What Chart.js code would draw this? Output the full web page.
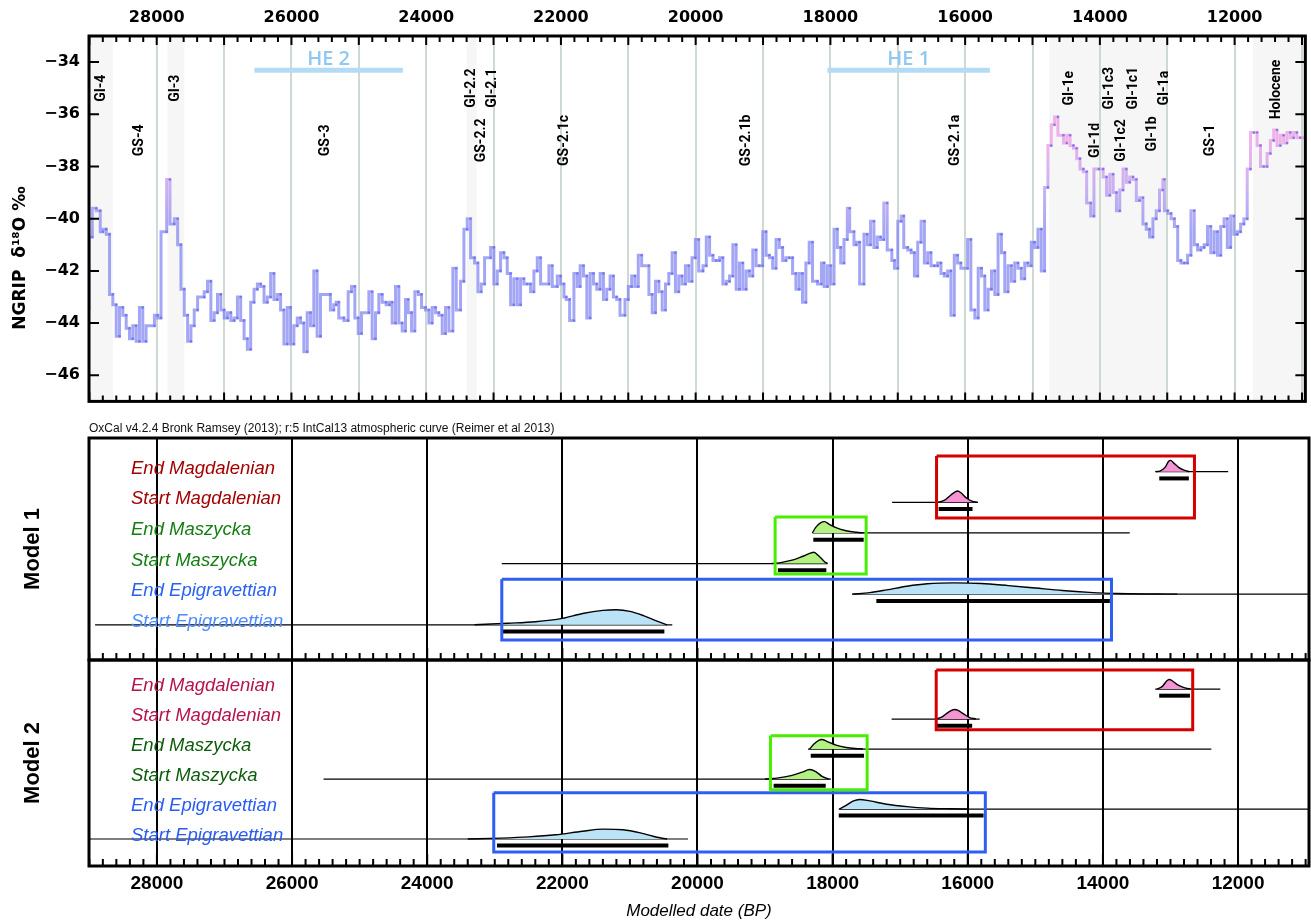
<!DOCTYPE html>
<html>
<head>
<meta charset="utf-8">
<script src="https://cdn.jsdelivr.net/npm/chart.js@4.4.1/dist/chart.umd.min.js"></script>
<style>
  html, body { margin: 0; padding: 0; background: #fff; }
  #wrap { position: relative; width: 1311px; height: 923px; overflow: hidden; }
  canvas { position: absolute; left: 0; }
  #c1 { top: 0; }
  #c2 { top: 420px; }
  #c3 { top: 657px; }
  #oxcal { position: absolute; left: 89px; top: 421px; font: 12px "Liberation Sans", Arial, sans-serif; color: #111; white-space: nowrap; }
</style>
</head>
<body>
<div id="wrap">
  <canvas id="c1" width="1311" height="420"></canvas>
  <canvas id="c2" width="1311" height="243"></canvas>
  <canvas id="c3" width="1311" height="266"></canvas>
  <div id="oxcal">OxCal v4.2.4 Bronk Ramsey (2013); r:5 IntCal13 atmospheric curve (Reimer et al 2013)</div>
</div>
<script>
/* ---- NGRIP d18O (step curve, start age of each step, yr BP) ---- */
const ngripAge = [
  29005,28956,28897,28838,28799,28749,28700,28651,28601,28552,28503,28453,28404,28355,28305,28256,28207,28158,28034,27985,
  27936,27852,27803,27739,27689,27640,27591,27541,27492,27443,27393,27295,27246,27196,27147,27098,27048,26999,26950,26900,
  26851,26802,26753,26703,26654,26605,26555,26506,26457,26407,26358,26309,26259,26210,26161,26112,26062,26013,25964,25914,
  25865,25816,25766,25717,25668,25619,25569,25422,25372,
  25336,25297,25222,25158,25108,25059,25009,24960,24851,24802,24752,24703,24653,24594,24544,24505,24455,24406,24356,24307,
  24267,24217,24168,24118,24069,24010,23960,23911,23861,23812,23762,23713,23663,23604,23554,23490,23440,23391,23341,23282,
  23232,23183,23133,23044,22995,22945,22896,22846,22797,22747,22698,22648,22599,22549,22500,22450,22401,22351,22302,22178,
  22129,22054,22005,21955,21921,21871,21807,21757,
  21714,21665,21615,21566,21517,21468,21418,21369,21320,21270,21221,21172,21123,21049,21000,20950,20901,20852,20802,20694,
  20645,20596,20546,20497,20448,20399,20349,20300,20251,20202,20152,20103,20054,20005,19955,19891,19842,19793,19743,19694,
  19645,19596,19546,19497,19448,19399,19349,19300,19251,19202,19152,19103,19054,19005,18955,18906,18857,18807,18758,18709,
  18660,18611,18561,18512,18463,18414,18364,18315,18266,18192,
  18133,18094,18045,17995,17946,17897,17847,17798,17749,17714,17650,17616,17566,17502,17453,17404,17354,17305,17256,17207,
  17157,17088,17049,17000,16950,16911,16852,16802,16753,16704,16654,16605,16556,16507,16457,16408,16359,16309,16260,16211,
  16161,16112,16063,15964,15915,15856,15806,15757,15708,15659,15609,15560,15511,15461,15412,15363,15313,15264,15215,15166,
  15116,15067,15018,14968,14919,14870,14821,14771,14722,14673,14623,
  14540,14491,14442,14393,14344,14295,14245,14196,14137,14088,14015,13951,13901,13852,13803,13754,13705,13656,13607,13557,
  13508,13459,13410,13361,13312,13263,13213,13164,13115,13066,13042,12992,12943,12894,12845,12796,12747,12698,12648,12599,
  12550,12501,12452,12403,12354,12304,12255,12206,12157,12108,12059,12010,11960,11911,11862,11813,11764,11715,11666,11616,
  11567,11518,11469,11420,11371,11322,11272,11223,11174,11125,11076,11027,10950
];
const ngripD18O = [
  -43.5,-40.7,-39.6,-39.7,-40.5,-40.4,-40.6,-42.9,-43.3,-44.5,-43.4,-43.7,-44.2,-44.6,-44.1,-44.7,-43.4,-44.7,-44.1,-43.7,
  -43.8,-40.5,-38.5,-40.2,-40.0,-41.0,-42.7,-43.7,-44.7,-44.1,-43.5,-43.0,-42.8,-42.4,-43.9,-43.6,-42.9,-43.5,-43.8,-43.6,
  -43.9,-43.8,-43.0,-43.9,-44.6,-45.0,-43.2,-42.7,-42.5,-42.6,-43.2,-43.0,-42.1,-43.1,-42.9,-43.5,-44.8,-43.4,-44.8,-44.1,
  -43.8,-44.0,-45.1,-43.6,-44.1,-42.0,-44.5,-42.9,-43.5,
  -43.3,-43.2,-43.8,-43.9,-42.8,-42.6,-43.8,-44.4,-43.6,-42.8,-44.6,-43.6,-42.9,-43.2,-43.3,-43.2,-44.0,-42.6,-44.0,-44.3,
  -43.1,-43.6,-44.3,-42.8,-42.9,-43.4,-43.5,-44.0,-43.4,-43.6,-43.7,-44.4,-43.4,-44.3,-41.9,-43.5,-42.4,-40.4,-40.0,-41.5,
  -41.7,-42.8,-42.5,-41.5,-41.1,-42.5,-42.0,-41.3,-41.5,-42.1,-43.3,-42.3,-43.3,-42.3,-42.5,-42.5,-42.8,-42.0,-41.5,-42.5,
  -41.8,-42.6,-42.2,-42.5,-43.0,-43.1,-43.9,-42.1,
  -42.6,-41.8,-42.2,-43.8,-42.1,-42.5,-42.7,-42.1,-43.1,-42.7,-42.2,-43.0,-43.1,-43.7,-43.1,-42.6,-42.2,-42.6,-41.4,-41.8,
  -42.9,-43.6,-42.4,-42.8,-43.5,-42.5,-42.1,-41.3,-42.8,-42.2,-42.5,-41.8,-42.4,-41.5,-40.8,-42.0,-41.8,-40.7,-41.4,-41.6,
  -41.6,-41.5,-42.5,-42.4,-42.2,-41.0,-42.7,-41.7,-42.7,-42.0,-42.2,-41.2,-41.8,-41.8,-40.5,-41.4,-41.5,-41.9,-40.8,-41.1,
  -41.6,-41.5,-41.5,-42.1,-42.7,-42.1,-43.2,-41.7,-40.9,-42.4,
  -42.5,-41.7,-42.6,-41.8,-42.5,-40.4,-41.1,-41.7,-40.8,-39.6,-40.5,-41.0,-40.9,-42.5,-40.6,-41.0,-40.1,-41.1,-40.7,-40.8,
  -39.4,-41.2,-41.6,-41.9,-40.1,-39.9,-41.1,-41.2,-41.3,-42.2,-40.9,-40.1,-41.7,-41.3,-41.8,-41.8,-41.7,-42.1,-42.2,-42.0,
  -43.7,-41.4,-41.7,-41.9,-40.8,-43.5,-43.8,-41.9,-42.2,-43.5,-42.7,-42.0,-42.9,-40.6,-41.3,-42.8,-41.8,-42.4,-41.7,-41.9,
  -42.3,-41.7,-41.8,-40.9,-41.1,-40.4,-42.0,-38.8,-37.2,-36.4,-36.1,
  -36.8,-37.1,-36.8,-37.2,-37.3,-37.7,-38.1,-38.2,-39.4,-39.9,-38.1,-38.1,-38.4,-39.1,-38.3,-39.0,-39.7,-38.9,-38.1,-38.6,
  -38.4,-38.5,-39.3,-39.2,-40.2,-40.4,-40.7,-40.0,-39.7,-38.9,-38.5,-39.7,-39.8,-40.0,-40.3,-41.6,-41.7,-41.7,-41.4,-39.7,
  -41.0,-41.2,-41.1,-41.0,-40.3,-41.3,-40.5,-41.4,-40.3,-40.0,-41.1,-39.9,-40.6,-40.5,-40.2,-40.0,-38.1,-36.7,-36.7,-37.2,
  -38.0,-38.0,-37.5,-37.0,-36.6,-37.2,-36.8,-37.1,-36.7,-36.9,-36.7,-36.9,-36.9
];

/* ---- axis ticks ---- */
const topAgeTicks   = [29000,28000,27000,26000,25000,24000,23000,22000,21000,20000,19000,18000,17000,16000,15000,14000,13000,12000,11000];
const modelAgeTicks = [28000,26000,24000,22000,20000,18000,16000,14000,12000];
const d18OTicks     = [-46,-44,-42,-40,-38,-36,-34];

/* ---- climate events (top panel) ---- */
const bandFrom = [29005, 27840, 23400, 14750, 11730];
const bandTo   = [28650, 27590, 23250, 12990, 10950];
const periodNames  = ['GI-4','GS-4','GI-3','GS-3','GI-2.2','GI-2.1','GS-2.2','GS-2.1c','GS-2.1b','GS-2.1a',
                      'GI-1e','GI-1d','GI-1c3','GI-1c2','GI-1c1','GI-1b','GI-1a','GS-1','Holocene'];
const periodAges   = [28813,28250,27719,25500,23326,23016,23178,21950,19244,16138,
                      14452,14068,13861,13684,13506,13225,13048,12353,11376];
const periodLevels = [-35,-37,-35,-37,-35,-35,-37,-37,-37,-37,
                      -35,-37,-35,-37,-35,-36.75,-35,-37,-35.05];
const heNames = ['HE 2', 'HE 1'];
const heFrom  = [26550, 18044];
const heTo    = [24346, 15633];
const heLevel = -34.31;

/* ---- OxCal boundaries (bottom panels) ---- */
const phaseNames = ['End Magdalenian','Start Magdalenian','End Maszycka','Start Maszycka','End Epigravettian','Start Epigravettian'];
const phaseRows  = [6, 5, 4, 3, 2, 1];
const phaseFill  = ['#f593d3','#f593d3','#b3f281','#b3f281','#bae3f7','#bae3f7'];

const m1LineFrom = [13224, 17119, 18297, 22896, 17714, 28915];
const m1LineTo   = [12146, 15848, 13603, 18076, 10950, 20373];
const m1BarFrom  = [13166, 16431, 18286, 18810, 17353, 22880];
const m1BarTo    = [12728, 15930, 17540, 18093, 13897, 20490];
const m1DensAge = [
  [13220,13150,13080,13030,13000,12950,12880,12800,12720],
  [16450,16350,16250,16180,16150,16100,16020,15940,15860],
  [18300,18250,18180,18120,18050,17950,17800,17650,17540],
  [18900,18750,18600,18450,18330,18280,18200,18120,18076],
  [17700,17450,17200,16900,16600,16200,15800,15400,15000,14600,14200,13800,13200,12900],
  [23300,22800,22400,22000,21700,21400,21200,21000,20800,20600,20450]
];
const m1DensVal = [
  [0,0.03,0.14,0.33,0.37,0.28,0.14,0.05,0],
  [0,0.06,0.24,0.35,0.37,0.31,0.14,0.04,0],
  [0,0.18,0.33,0.37,0.28,0.17,0.07,0.02,0],
  [0,0.04,0.11,0.23,0.34,0.37,0.24,0.06,0],
  [0,0.05,0.14,0.26,0.34,0.37,0.35,0.28,0.2,0.12,0.06,0.02,0.005,0],
  [0,0.05,0.1,0.21,0.37,0.47,0.49,0.44,0.3,0.12,0]
];
const m1LabelColors = ['#a40000','#a40000','#137e13','#137e13','#2a62f0','#4d8bff'];
const m1BoxFrom   = [16462, 18851, 22896];
const m1BoxTo     = [12645, 17504, 13873];
const m1BoxTop    = [6.51, 4.52, 2.49];
const m1BoxBottom = [4.49, 2.66, 0.50];

const m2LineFrom = [13226, 17127, 18365, 25534, 17909, 29005];
const m2LineTo   = [12262, 15824, 12396, 18026, 10950, 20140];
const m2BarFrom  = [13167, 16484, 18324, 18873, 17909, 22968];
const m2BarTo    = [12712, 15935, 17535, 18102, 15766, 20431];
const m2DensAge = [
  [13200,13120,13060,13020,12970,12900,12800,12700],
  [16470,16380,16280,16200,16150,16080,15980,15880],
  [18340,18280,18200,18160,18080,17950,17800,17600,17550],
  [19000,18800,18600,18450,18340,18250,18150,18050],
  [17900,17800,17700,17600,17450,17200,16900,16600,16260,16000],
  [23400,22900,22500,22100,21700,21400,21100,20800,20600,20450]
];
const m2DensVal = [
  [0,0.09,0.26,0.32,0.27,0.15,0.05,0],
  [0,0.07,0.24,0.32,0.3,0.2,0.06,0],
  [0,0.16,0.3,0.32,0.25,0.13,0.05,0.01,0],
  [0,0.04,0.12,0.23,0.32,0.25,0.08,0],
  [0,0.12,0.26,0.32,0.27,0.16,0.08,0.03,0.01,0],
  [0,0.03,0.07,0.14,0.26,0.33,0.31,0.18,0.06,0]
];
const m2LabelColors = ['#b5124f','#b5124f','#0b5c0b','#0b5c0b','#2a5cf5','#2a5cf5'];
const m2BoxFrom   = [16467, 18920, 23015];
const m2BoxTo     = [12671, 17489, 15740];
const m2BoxTop    = [6.64, 4.44, 2.54];
const m2BoxBottom = [4.64, 2.64, 0.57];

const boxColors = ['#d40000', '#48ee00', '#2f5ef5'];
const AGE_MIN = 10950, AGE_MAX = 29005;

/* ---- helpers ---- */
const fixedTicks = (values) => (s) => { s.ticks = values.map(v => ({ value: v })); };

const frameTicks = {
  id: 'frameTicks',
  afterDraw(chart, args, opts) {
    const { ctx, chartArea: a, scales: { x, y } } = chart;
    ctx.save();
    ctx.strokeStyle = '#000';
    ctx.lineWidth = 2;
    ctx.beginPath();
    for (let v = 11000; v <= 29000; v += 200) {
      const px = x.getPixelForValue(v);
      const len = v % opts.major === 0 ? opts.majorLen : opts.minorLen;
      if (opts.top) { ctx.moveTo(px, a.top); ctx.lineTo(px, a.top + len); }
      if (opts.bottom) { ctx.moveTo(px, a.bottom); ctx.lineTo(px, a.bottom - len); }
    }
    if (opts.yTicks) {
      y.ticks.forEach(t => {
        const py = y.getPixelForValue(t.value);
        ctx.moveTo(a.left, py); ctx.lineTo(a.left + 10, py);
        ctx.moveTo(a.right, py); ctx.lineTo(a.right - 10, py);
      });
    }
    ctx.stroke();
    ctx.lineWidth = 3;
    ctx.strokeRect(a.left, a.top, a.right - a.left, a.bottom - a.top);
    ctx.restore();
  }
};

const ngripDecor = {
  id: 'ngripDecor',
  beforeDraw(chart) {
    const { ctx, chartArea: a, scales: { x } } = chart;
    ctx.save();
    ctx.fillStyle = '#f5f6f5';
    bandFrom.forEach((f, i) => {
      const x0 = x.getPixelForValue(f), x1 = x.getPixelForValue(bandTo[i]);
      ctx.fillRect(x0, a.top, x1 - x0, a.bottom - a.top);
    });
    ctx.restore();
  },
  afterDatasetsDraw(chart) {
    const { ctx, scales: { x, y } } = chart;
    ctx.save();
    ctx.fillStyle = '#000';
    ctx.font = 'bold 14px Roboto, "Liberation Sans", sans-serif';
    ctx.textAlign = 'center';
    ctx.textBaseline = 'middle';
    periodNames.forEach((n, i) => {
      ctx.save();
      ctx.translate(x.getPixelForValue(periodAges[i]), y.getPixelForValue(periodLevels[i]));
      ctx.rotate(-Math.PI / 2);
      ctx.fillText(n, 0, 0);
      ctx.restore();
    });
    ctx.fillStyle = '#8ec8f3';
    ctx.font = '600 20px "Open Sans", sans-serif';
    ctx.textBaseline = 'bottom';
    heNames.forEach((n, i) => {
      ctx.fillText(n, (x.getPixelForValue(heFrom[i]) + x.getPixelForValue(heTo[i])) / 2, y.getPixelForValue(heLevel) - 1);
    });
    ctx.fillStyle = '#000';
    ctx.font = 'bold 17px "DejaVu Sans", sans-serif';
    ctx.textBaseline = 'middle';
    ctx.translate(21, 258);
    ctx.rotate(-Math.PI / 2);
    ctx.fillText('NGRIP  \u03b4\u00b9\u2078O \u2030', 0, 0);
    ctx.restore();
  }
};

const rowLabels = {
  id: 'rowLabels',
  afterDatasetsDraw(chart, args, opts) {
    const { ctx, chartArea: a, scales: { y } } = chart;
    ctx.save();
    ctx.font = 'italic 18.5px "Liberation Sans", Arial, sans-serif';
    ctx.textBaseline = 'middle';
    phaseNames.forEach((n, i) => {
      ctx.fillStyle = opts.colors[i];
      ctx.fillText(n, a.left + 42, y.getPixelForValue(phaseRows[i] + 0.1));
    });
    ctx.restore();
  }
};

function modelDatasets(lineFrom, lineTo, barFrom, barTo, densAge, densVal, bFrom, bTo, bTop, bBot, barGap) {
  const ds = [];
  phaseRows.forEach((row, i) => {
    ds.push({ data: [{ x: lineFrom[i], y: row }, { x: lineTo[i], y: row }],
      borderColor: '#000', borderWidth: 1.2, pointRadius: 0, order: 5 });
    ds.push({ data: densAge[i].map((age, k) => ({ x: age, y: row + densVal[i][k] })),
      borderColor: '#000', borderWidth: 1.4, backgroundColor: phaseFill[i],
      fill: { value: row }, pointRadius: 0, cubicInterpolationMode: 'monotone', order: 4 });
    ds.push({ data: [{ x: barFrom[i], y: row - barGap }, { x: barTo[i], y: row - barGap }],
      borderColor: '#000', borderWidth: 4, borderCapStyle: 'butt', pointRadius: 0, order: 3 });
  });
  bFrom.forEach((f, i) => {
    ds.push({ data: [{ x: f, y: bTop[i] }, { x: bTo[i], y: bTop[i] }, { x: bTo[i], y: bBot[i] },
                     { x: f, y: bBot[i] }, { x: f, y: bTop[i] }],
      borderColor: boxColors[i], borderWidth: 3, borderJoinStyle: 'miter', pointRadius: 0, order: 1 });
  });
  return ds;
}

function modelChart(canvasId, title, yMin, yMax, pad, showAxis, datasets, labelColors) {
  return new Chart(document.getElementById(canvasId), {
    type: 'line',
    data: { datasets },
    options: {
      responsive: false, animation: false, events: [],
      layout: { padding: pad },
      elements: { line: { tension: 0 } },
      scales: {
        x: {
          type: 'linear', reverse: true, min: AGE_MIN, max: AGE_MAX,
          afterBuildTicks: fixedTicks(modelAgeTicks),
          ticks: { display: showAxis, autoSkip: false, maxRotation: 0, padding: 6,
                   color: '#000', callback: v => String(v),
                   font: { family: '"Liberation Sans", Arial, sans-serif', weight: 'bold', size: 19 } },
          grid: { color: '#000', lineWidth: 2, drawTicks: false },
          border: { display: false },
          title: { display: showAxis, text: 'Modelled date (BP)', color: '#000', padding: { top: 0, bottom: 2 },
                   font: { family: '"Liberation Sans", Arial, sans-serif', style: 'italic', size: 17 } },
          afterFit: s => { s.height = showAxis ? 57 : 0; }
        },
        y: {
          min: yMin, max: yMax,
          ticks: { display: false },
          grid: { display: false },
          border: { display: false },
          title: { display: true, text: title, color: '#000', padding: { top: 20, bottom: 0 },
                   font: { family: '"Liberation Sans", Arial, sans-serif', weight: 'bold', size: 22 } },
          afterFit: s => { s.width = 89; }
        }
      },
      plugins: {
        legend: { display: false }, tooltip: { enabled: false },
        frameTicks: { top: false, bottom: true, major: 2000, majorLen: 12, minorLen: 7 },
        rowLabels: { colors: labelColors }
      }
    },
    plugins: [frameTicks, rowLabels]
  });
}

/* ---- top panel: NGRIP ---- */
const ngripPoints = ngripAge.map((a, i) => ({ x: a, y: ngripD18O[i] }));
new Chart(document.getElementById('c1'), {
  type: 'line',
  data: {
    datasets: [
      {
        data: ngripPoints,
        stepped: 'after',
        borderWidth: 3,
        borderColor: (c) => {
          const { ctx, chartArea, scales } = c.chart;
          if (!chartArea) return 'rgba(130,135,240,0.75)';
          const g = ctx.createLinearGradient(0, scales.y.getPixelForValue(-40.5), 0, scales.y.getPixelForValue(-37));
          g.addColorStop(0, 'rgba(128,132,240,0.72)');
          g.addColorStop(0.5, 'rgba(185,150,240,0.72)');
          g.addColorStop(1, 'rgba(236,150,228,0.72)');
          return g;
        },
        pointRadius: 1.3,
        pointBorderWidth: 0,
        pointBackgroundColor: 'rgba(110,112,235,0.85)',
        order: 2
      },
      ...heNames.map((n, i) => ({
        data: [{ x: heFrom[i], y: heLevel }, { x: heTo[i], y: heLevel }],
        borderColor: '#b4dbf6', borderWidth: 5, borderCapStyle: 'butt', pointRadius: 0, order: 1
      }))
    ]
  },
  options: {
    responsive: false, animation: false, events: [],
    layout: { padding: { left: 0, right: 2, top: 0, bottom: 5 } },
    scales: {
      x: {
        type: 'linear', position: 'top', reverse: true, min: AGE_MIN, max: AGE_MAX,
        afterBuildTicks: fixedTicks(topAgeTicks),
        ticks: { autoSkip: false, maxRotation: 0, padding: 9, color: '#000',
                 callback: v => (v % 2000 === 0 ? String(v) : ''),
                 font: { family: '"DejaVu Sans", sans-serif', weight: 'bold', size: 16 } },
        grid: { color: '#cfd9d4', lineWidth: 2, drawTicks: false },
        border: { display: false },
        afterFit: s => { s.height = 36; }
      },
      y: {
        min: -47, max: -33,
        afterBuildTicks: fixedTicks(d18OTicks),
        ticks: { autoSkip: false, padding: 9, color: '#000',
                 callback: v => '\u2212' + Math.abs(v),
                 font: { family: '"DejaVu Sans", sans-serif', weight: 'bold', size: 16 } },
        grid: { display: false, drawTicks: false },
        border: { display: false },
        afterFit: s => { s.width = 89; }
      }
    },
    plugins: {
      legend: { display: false }, tooltip: { enabled: false },
      frameTicks: { top: true, bottom: true, major: 1000, majorLen: 9, minorLen: 6, yTicks: true }
    }
  },
  plugins: [ngripDecor, frameTicks]
});

/* ---- bottom panels: OxCal models ---- */
modelChart('c2', 'Model 1', -0.15, 7.1, { left: 0, right: 2, top: 18, bottom: 3 }, false,
  modelDatasets(m1LineFrom, m1LineTo, m1BarFrom, m1BarTo, m1DensAge, m1DensVal,
                m1BoxFrom, m1BoxTo, m1BoxTop, m1BoxBottom, 0.22), m1LabelColors);
modelChart('c3', 'Model 2', 0.1, 6.97, { left: 0, right: 2, top: 3, bottom: 0 }, true,
  modelDatasets(m2LineFrom, m2LineTo, m2BarFrom, m2BarTo, m2DensAge, m2DensVal,
                m2BoxFrom, m2BoxTo, m2BoxTop, m2BoxBottom, 0.22), m2LabelColors);
</script>
</body>
</html>
